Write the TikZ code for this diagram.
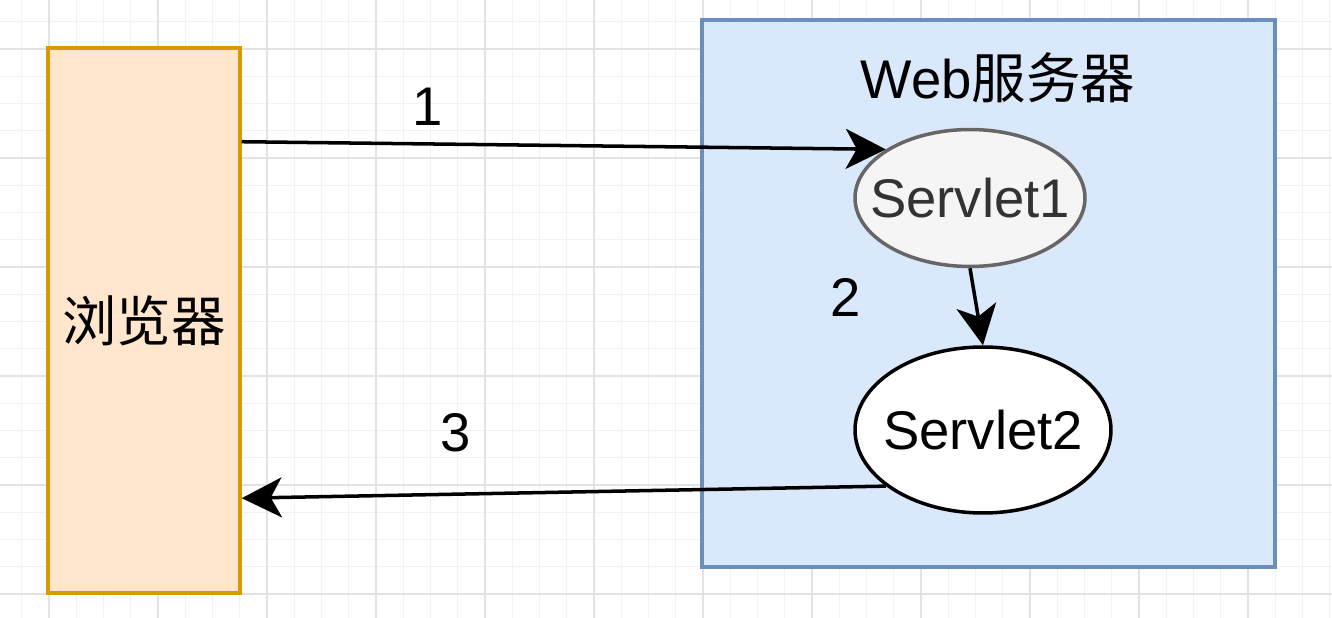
\documentclass[tikz,border=0pt]{standalone}
\usepackage{fontspec}
\setmainfont{Liberation Sans}
\newfontfamily\cjk{Noto Sans CJK SC}
\usetikzlibrary{arrows.meta,shapes.geometric,calc}
\definecolor{peachfill}{HTML}{FFE6CC}
\definecolor{peachline}{HTML}{D79B00}
\definecolor{bluefill}{HTML}{DAE8FC}
\definecolor{blueline}{HTML}{6C8EBF}
\definecolor{greyfill}{HTML}{F5F5F5}
\definecolor{greyline}{HTML}{666666}
\definecolor{greytext}{HTML}{333333}
\definecolor{gridlight}{HTML}{F2F2F2}
\definecolor{griddark}{HTML}{E3E3E3}

\begin{document}
\begin{tikzpicture}[x=0.02cm,y=-0.02cm,
    bigfont/.style={font=\fontsize{31}{36}\selectfont},
    gridminor/.style={draw=gridlight,line width=0.6pt},
    gridmajor/.style={draw=griddark,line width=0.8pt},
    browserbox/.style={shape=rectangle,draw=peachline,fill=peachfill,line width=2pt,
        minimum width=3.84cm,minimum height=10.9cm,inner sep=0pt,bigfont},
    serverbox/.style={shape=rectangle,draw=blueline,fill=bluefill,line width=2pt,
        minimum width=11.46cm,minimum height=10.94cm,inner sep=0pt},
    servletgrey/.style={shape=ellipse,draw=greyline,fill=greyfill,text=greytext,line width=2pt,
        minimum width=4.6cm,minimum height=2.74cm,inner sep=0pt,bigfont},
    servletwhite/.style={shape=ellipse,draw=black,fill=white,line width=2pt,
        minimum width=5.12cm,minimum height=3.32cm,inner sep=0pt,bigfont},
    steplabel/.style={inner sep=0pt,bigfont},
    arr/.style={-{Stealth[length=0.8cm,width=0.8cm,inset=0.22cm]},line width=2pt}]
	\useasboundingbox (0,0) rectangle (1332,618);
	% background grid
	\foreach \i in {-1,...,47} \draw[gridminor] ({49+27.25*\i},0) -- ({49+27.25*\i},618);
	\foreach \i in {-1,...,21} \draw[gridminor] (0,{49+27.25*\i}) -- (1332,{49+27.25*\i});
	\foreach \i in {-1,...,12} \draw[gridmajor] ({49+109*\i},0) -- ({49+109*\i},618);
	\foreach \i in {-1,...,5} \draw[gridmajor] (0,{49+109*\i}) -- (1332,{49+109*\i});

	\node[browserbox] (browser) at (144, 320.5)  {{\cjk 浏览器}};
	\node[serverbox] (web) at (988.5, 293.5)     {};
	\node[steplabel] (webtitle) at (998, 78)     {Web{\cjk 服务器}};
	\node[servletgrey] (s1) at (970, 198)        {\makebox[0pt]{Servlet1}};
	\node[servletwhite] (s2) at (983, 430)       {\makebox[0pt]{Servlet2}};
	\node[steplabel] (n1) at (428, 107)          {1};
	\node[steplabel] (n2) at (846, 297)          {2};
	\node[steplabel] (n3) at (456, 433)          {3};
    \path[arr] ($(browser.north east)!0.174!(browser.south east)$) edge (s1.150);
    \path[arr] (s1.south) edge (s2.north);
    \path[arr] (s2.210) edge ($(browser.north east)!0.824!(browser.south east)$);
\end{tikzpicture}
\end{document}
